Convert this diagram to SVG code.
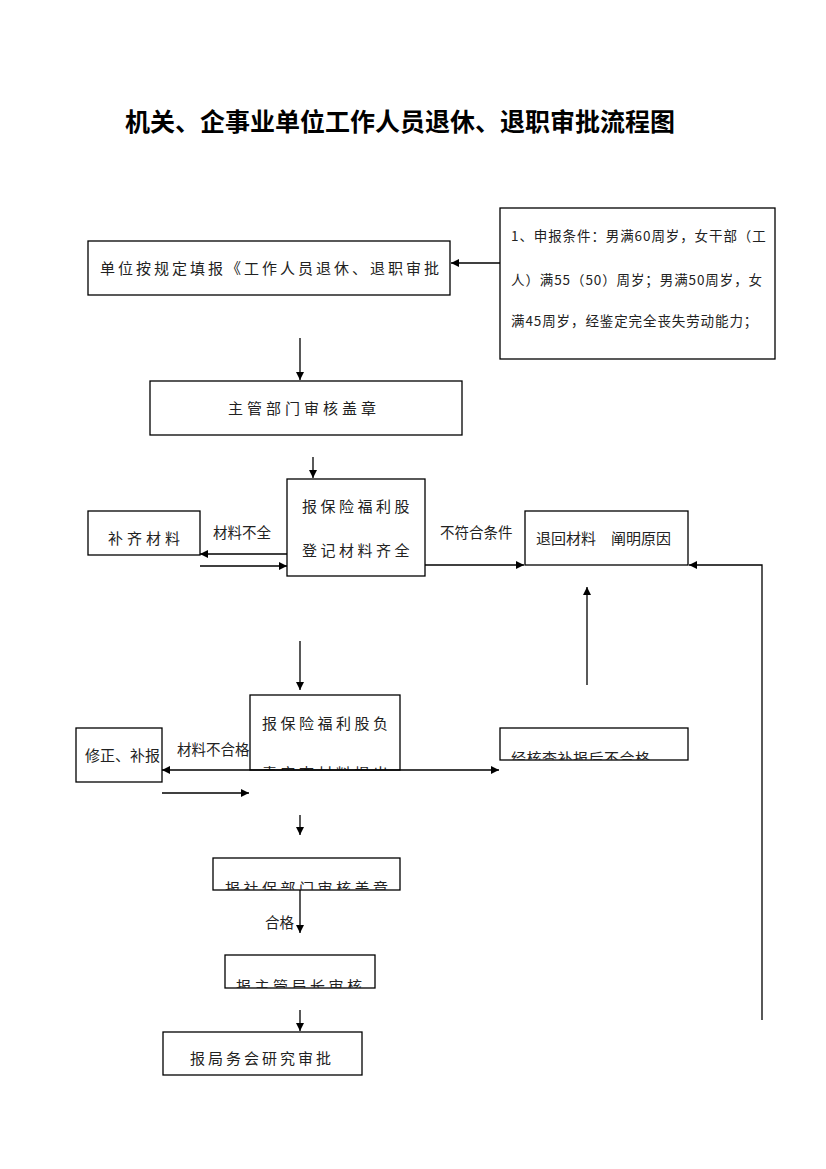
<svg xmlns="http://www.w3.org/2000/svg" width="826" height="1169" viewBox="0 0 826 1169">
<style>
.box{fill:#fff;stroke:#000;stroke-width:1.3}
.t{font-family:"Noto Sans CJK SC","Liberation Sans",sans-serif;fill:#222;font-size:15px}
.s{font-size:13.5px}
.lb{font-size:14.5px}
.ln{stroke:#000;stroke-width:1.3;fill:none}
.ttl{font-family:"Noto Sans CJK SC",sans-serif;font-size:25px;font-weight:bold;fill:#000}
</style>
<defs>
<marker id="ah" viewBox="0 0 10 10" refX="10" refY="5" markerWidth="8" markerHeight="8" markerUnits="userSpaceOnUse" orient="auto"><path d="M0,0 L10,5 L0,10 z" fill="#000"/></marker>
<clipPath id="c4"><rect x="250" y="695" width="150" height="75"/></clipPath>
<clipPath id="c5"><rect x="500" y="728" width="188" height="32"/></clipPath>
<clipPath id="c6"><rect x="213" y="858" width="187" height="32"/></clipPath>
<clipPath id="c7"><rect x="225" y="955" width="150" height="33"/></clipPath>
</defs>
<rect width="826" height="1169" fill="#fff"/>
<text class="ttl" x="400" y="131" text-anchor="middle">机关、企事业单位工作人员退休、退职审批流程图</text>

<g id="n1"><rect class="box" x="88" y="241" width="362" height="54"/><text class="t" x="100" y="274" letter-spacing="3">单位按规定填报《工作人员退休、退职审批</text></g>
<g id="n0"><rect class="box" x="500" y="208" width="275" height="151"/>
<text class="t s" x="511" y="241" letter-spacing="0.9">1、申报条件：男满60周岁，女干部（工</text>
<text class="t s" x="511" y="285" letter-spacing="0.9">人）满55（50）周岁；男满50周岁，女</text>
<text class="t s" x="511" y="326" letter-spacing="0.9">满45周岁，经鉴定完全丧失劳动能力；</text></g>
<g id="n2"><rect class="box" x="150" y="381" width="312" height="54"/><text class="t" x="304" y="414" text-anchor="middle" letter-spacing="4">主管部门审核盖章</text></g>
<g id="n3"><rect class="box" x="287" y="479" width="138" height="97"/><text class="t" x="302" y="512" letter-spacing="3.5">报保险福利股</text><text class="t" x="302" y="556" letter-spacing="3.5">登记材料齐全</text></g>
<g id="n3a"><rect class="box" x="88" y="511" width="112" height="44"/><text class="t" x="108" y="544" letter-spacing="4">补齐材料</text></g>
<g id="n3b"><rect class="box" x="525" y="511" width="163" height="54"/><text class="t" x="536" y="544" font-size="14">退回材料　阐明原因</text></g>
<g id="n4"><rect class="box" x="250" y="695" width="150" height="75"/><g clip-path="url(#c4)"><text class="t" x="262" y="729" letter-spacing="3.5">报保险福利股负</text><text class="t" x="262" y="779" letter-spacing="3.5">责审查材料提出</text></g></g>
<g id="n4a"><rect class="box" x="76" y="728" width="86" height="54"/><text class="t" x="85" y="761" font-size="14">修正、补报</text></g>
<g id="n4b"><rect class="box" x="500" y="728" width="188" height="32"/><g clip-path="url(#c5)"><text class="t" x="511" y="764" font-size="14" letter-spacing="0.5">经核查补报后不合格</text></g></g>
<g id="n5"><rect class="box" x="213" y="858" width="187" height="32"/><g clip-path="url(#c6)"><text class="t" x="225" y="894" letter-spacing="3.5">报社保部门审核盖章</text></g></g>
<g id="n6"><rect class="box" x="225" y="955" width="150" height="33"/><g clip-path="url(#c7)"><text class="t" x="236" y="992" letter-spacing="3.5">报主管局长审核</text></g></g>
<g id="n7"><rect class="box" x="163" y="1032" width="199" height="43"/><text class="t" x="190" y="1064" letter-spacing="3">报局务会研究审批</text></g>

<g id="labels">
<text class="t lb" x="213" y="538">材料不全</text>
<text class="t lb" x="440" y="538">不符合条件</text>
<text class="t lb" x="177" y="755">材料不合格</text>
<text class="t lb" x="265" y="928">合格</text>
</g>

<g id="connectors">
<line class="ln" x1="500" y1="263" x2="451" y2="263" marker-end="url(#ah)"/>
<line class="ln" x1="300" y1="338" x2="300" y2="380" marker-end="url(#ah)"/>
<line class="ln" x1="313" y1="457" x2="313" y2="478" marker-end="url(#ah)"/>
<line class="ln" x1="287" y1="554" x2="200" y2="554" marker-end="url(#ah)"/>
<line class="ln" x1="200" y1="566" x2="287" y2="566" marker-end="url(#ah)"/>
<line class="ln" x1="425" y1="565" x2="524" y2="565" marker-end="url(#ah)"/>
<polyline class="ln" points="762,1020 762,565 689,565" marker-end="url(#ah)"/>
<line class="ln" x1="587" y1="685" x2="587" y2="587" marker-end="url(#ah)"/>
<line class="ln" x1="300" y1="641" x2="300" y2="690" marker-end="url(#ah)"/>
<line class="ln" x1="330" y1="770" x2="162" y2="770" marker-end="url(#ah)"/>
<line class="ln" x1="330" y1="770" x2="499" y2="770" marker-end="url(#ah)"/>
<line class="ln" x1="162" y1="793" x2="249" y2="793" marker-end="url(#ah)"/>
<line class="ln" x1="300" y1="815" x2="300" y2="835" marker-end="url(#ah)"/>
<line class="ln" x1="300" y1="890" x2="300" y2="933" marker-end="url(#ah)"/>
<line class="ln" x1="300" y1="1010" x2="300" y2="1031" marker-end="url(#ah)"/>
</g>
</svg>
